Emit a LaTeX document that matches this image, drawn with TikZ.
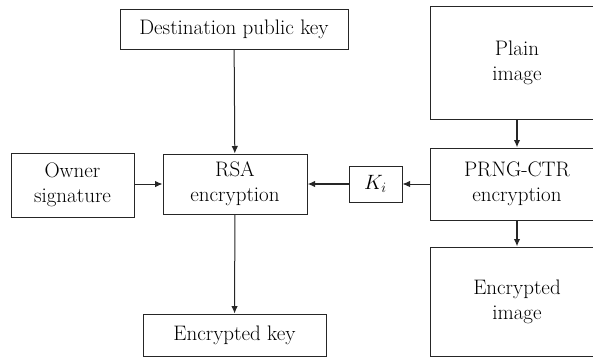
\documentclass[tikz,border=0pt]{standalone}
\usepackage{tikz}
\usetikzlibrary{positioning, arrows.meta}

\tikzset{
  blk/.style={draw=black!85, line width=1pt, align=center, inner sep=0pt,
    font=\fontsize{21}{25}\selectfont},
  flow/.style={-{Latex[length=7.5pt, width=6.5pt]}, line width=1pt, draw=black!85},
  thick flow/.style={-{Latex[length=7.5pt, width=6.5pt]}, line width=1.5pt, draw=black!85}
}

\begin{document}
\begin{tikzpicture}[x=1pt, y=-1pt]
    \useasboundingbox (0,0) rectangle (593,357);

    % left part
    \node[blk, minimum width=228pt, minimum height=40pt] (dest) at (234,29) {Destination public key};
    \node[blk, minimum width=144pt, minimum height=60pt] (rsa) at (235,184) {RSA\\encryption};
    \node[blk, minimum width=123pt, minimum height=64pt] (owner) at (72.5,185) {Owner\\signature};
    \node[blk, minimum width=183pt, minimum height=42pt] (enckey) at (234.5,335) {Encrypted key};
    \node[blk, minimum width=53pt, minimum height=36pt] (ki) at (375.5,184) {$K_i$};

    % right column (cut by the page border)
    \node[blk, minimum width=174pt, minimum height=113pt] (plain) at (517,62.5) {Plain\\image};
    \node[blk, minimum width=174pt, minimum height=72pt] (prng) at (517,184) {PRNG-CTR\\encryption};
    \node[blk, minimum width=174pt, minimum height=109pt] (encimg) at (517,301.5) {Encrypted\\image};

    \draw[flow] (dest) -- (rsa);
    \draw[flow] (rsa) -- (enckey);
    \draw[flow] (owner.east |- rsa) -- (rsa);
    \draw[thick flow] (ki) -- (rsa);
    \draw[flow] (prng) -- (ki);
    \draw[thick flow] (plain) -- (prng);
    \draw[thick flow] (prng) -- (encimg);

\end{tikzpicture}
\end{document}
